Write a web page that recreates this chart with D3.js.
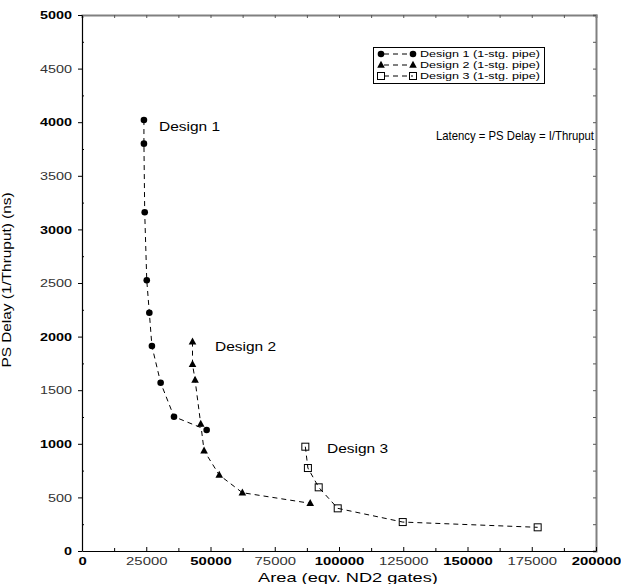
<!DOCTYPE html>
<html>
<head>
<meta charset="utf-8">
<script src="https://cdn.jsdelivr.net/npm/d3@7"></script>
<style>
body { margin: 0; background: #fff; }
text { font-family: "Liberation Sans", Arial, sans-serif; fill: #000; }
</style>
</head>
<body>
<svg class="chart"></svg>
<script>
DESIGN1_AREA = [24100, 24100, 24400, 25200, 26200, 27200, 30600, 35800, 48500];
DESIGN1_DELAY = [4020, 3800, 3160, 2525, 2223, 1912, 1570, 1253, 1129];

DESIGN2_AREA = [43000, 43000, 44000, 46200, 47500, 53400, 62400, 88800];
DESIGN2_DELAY = [1953, 1742, 1595, 1185, 936, 709, 544, 445];

DESIGN3_AREA = [86900, 87900, 92100, 99500, 124800, 177300];
DESIGN3_DELAY = [973, 774, 594, 398, 270, 221];

X_TICKS = [0, 25000, 50000, 75000, 100000, 125000, 150000, 175000, 200000];
Y_TICKS = [0, 500, 1000, 1500, 2000, 2500, 3000, 3500, 4000, 4500, 5000];

LEGEND_LABELS = ["Design 1 (1-stg. pipe)", "Design 2 (1-stg. pipe)", "Design 3 (1-stg. pipe)"];

CHART_MARGIN = {top: 15, right: 25, bottom: 33, left: 82};
SVG_WIDTH = 621;
SVG_HEIGHT = 584;
CHART_WIDTH = SVG_WIDTH - CHART_MARGIN.left - CHART_MARGIN.right;
CHART_HEIGHT = SVG_HEIGHT - CHART_MARGIN.top - CHART_MARGIN.bottom;

function zipPoints(xs, ys) {
    var out = [];
    for (i = 0; i < xs.length; i++) out.push({area: xs[i], delay: ys[i]});
    return out;
}

// the original's text is drawn a bit wider than the font
function stretchText(sel, factor) {
    sel.each(function() {
        var w = this.getComputedTextLength();
        d3.select(this)
            .attr("textLength", w * factor)
            .attr("lengthAdjust", "spacingAndGlyphs");
    });
}

function drawMarker(g, kind, cx, cy) {
    if (kind == "circle") {
        g.append("circle").attr("cx", cx).attr("cy", cy).attr("r", 3.3).attr("fill", "#000");
    } else if (kind == "triangle") {
        g.append("path")
            .attr("transform", "translate(" + cx + "," + cy + ")")
            .attr("d", "M0,-4.2L3.8,2.8L-3.8,2.8Z")
            .attr("fill", "#000");
    } else {
        g.append("rect")
            .attr("x", cx - 3.5).attr("y", cy - 3.5)
            .attr("width", 7).attr("height", 7)
            .attr("fill", "none").attr("stroke", "#000").attr("stroke-width", 1);
    }
}

svg = d3.select(".chart").attr("width", SVG_WIDTH).attr("height", SVG_HEIGHT);
chart = svg.append("g")
    .attr("transform", "translate(" + CHART_MARGIN.left + "," + CHART_MARGIN.top + ")");

x = d3.scaleLinear().domain([0, 200000]).range([0, CHART_WIDTH]);
y = d3.scaleLinear().domain([0, 5000]).range([CHART_HEIGHT, 0]);

// top and right frame (grey)
chart.append("g")
    .call(d3.axisBottom(x).tickValues(d3.range(0, 200001, 12500)).tickSize(3).tickFormat(""))
    .call(function(g) { g.select(".domain").attr("stroke", "#808080").attr("stroke-width", 2); })
    .selectAll(".tick line").attr("stroke", "#555");
chart.append("g")
    .attr("transform", "translate(" + CHART_WIDTH + ",0)")
    .call(d3.axisLeft(y).tickValues(d3.range(0, 5001, 250)).tickSize(3).tickFormat(""))
    .call(function(g) { g.select(".domain").attr("stroke", "#808080").attr("stroke-width", 2); })
    .selectAll(".tick line").attr("stroke", "#555");

// x axis
xAxisG = chart.append("g")
    .attr("transform", "translate(0," + CHART_HEIGHT + ")")
    .call(d3.axisBottom(x).tickValues(X_TICKS).tickFormat(d3.format("d"))
        .tickSize(-4).tickPadding(6).tickSizeOuter(0));
xAxisG.append("g").call(d3.axisBottom(x).tickValues(d3.range(12500, 200000, 25000)).tickSize(-3).tickFormat(""))
    .select(".domain").remove();
xAxisG.selectAll(".tick text")
    .attr("font-size", 11)
    .style("font-weight", function(d) { return d % 50000 == 0 ? "bold" : "normal"; })
    .style("fill", function(d) { return d % 50000 == 0 ? "#000" : "#333"; })
    .call(stretchText, 1.35);

// y axis
yAxisG = chart.append("g")
    .call(d3.axisLeft(y).tickValues(Y_TICKS).tickFormat(d3.format("d"))
        .tickSize(4).tickPadding(6).tickSizeOuter(0));
yAxisG.append("g").call(d3.axisRight(y).tickValues(d3.range(250, 5000, 500)).tickSize(2).tickFormat(""))
    .select(".domain").remove();
yAxisG.selectAll(".tick text")
    .attr("font-size", 11.5)
    .style("font-weight", function(d) { return d % 1000 == 0 ? "bold" : "normal"; })
    .style("fill", function(d) { return d % 1000 == 0 ? "#000" : "#333"; })
    .call(stretchText, 1.25);
xAxisG.select(".domain").attr("stroke-width", 1.2);
yAxisG.select(".domain").attr("stroke-width", 1.2);

// axis titles
svg.append("text")
    .attr("x", 348).attr("y", 582)
    .attr("text-anchor", "middle")
    .attr("font-size", 13)
    .text("Area (eqv. ND2 gates)")
    .call(stretchText, 1.4);
svg.append("text")
    .attr("transform", "translate(10.5,280) rotate(-90)")
    .attr("text-anchor", "middle")
    .attr("font-size", 12.5)
    .text("PS Delay (1/Thruput)  (ns)")
    .call(stretchText, 1.23);

// series
SERIES = [
    {points: zipPoints(DESIGN1_AREA, DESIGN1_DELAY), marker: "circle"},
    {points: zipPoints(DESIGN2_AREA, DESIGN2_DELAY), marker: "triangle"},
    {points: zipPoints(DESIGN3_AREA, DESIGN3_DELAY), marker: "square"}
];

line = d3.line()
    .x(function(d) { return x(d.area); })
    .y(function(d) { return y(d.delay); });

SERIES.forEach(function(s) {
    chart.append("path")
        .datum(s.points)
        .attr("fill", "none")
        .attr("stroke", "#000")
        .attr("stroke-width", 1)
        .attr("stroke-dasharray", "5,4")
        .attr("d", line);
    var mg = chart.append("g");
    s.points.forEach(function(d) { drawMarker(mg, s.marker, x(d.area), y(d.delay)); });
});

// in-plot labels
svg.append("text").attr("x", 159).attr("y", 131).attr("font-size", 13)
    .text("Design 1").call(stretchText, 1.19);
svg.append("text").attr("x", 215).attr("y", 351).attr("font-size", 13)
    .text("Design 2").call(stretchText, 1.19);
svg.append("text").attr("x", 327).attr("y", 453).attr("font-size", 13)
    .text("Design 3").call(stretchText, 1.19);
svg.append("text").attr("x", 594).attr("y", 140).attr("font-size", 13)
    .attr("text-anchor", "end")
    .attr("textLength", 158).attr("lengthAdjust", "spacingAndGlyphs")
    .text("Latency = PS Delay = I/Thruput");

// legend
legend = svg.append("g");
legend.append("rect")
    .attr("x", 373.5).attr("y", 47.5).attr("width", 171).attr("height", 36)
    .attr("fill", "#fff").attr("stroke", "#000").attr("stroke-width", 1);
LEGEND_LABELS.forEach(function(label, i) {
    var ry = 54 + i * 11;
    legend.append("line")
        .attr("x1", 381).attr("x2", 413).attr("y1", ry).attr("y2", ry)
        .attr("stroke", "#000").attr("stroke-width", 1).attr("stroke-dasharray", "5,4")
        .attr("stroke-dashoffset", -3);
    drawMarker(legend, SERIES[i].marker, 381, ry);
    drawMarker(legend, SERIES[i].marker, 413, ry);
    legend.append("text")
        .attr("x", 420).attr("y", ry + 3.4)
        .attr("font-size", 9.5)
        .text(label)
        .call(stretchText, 1.32);
});
</script>
</body>
</html>
